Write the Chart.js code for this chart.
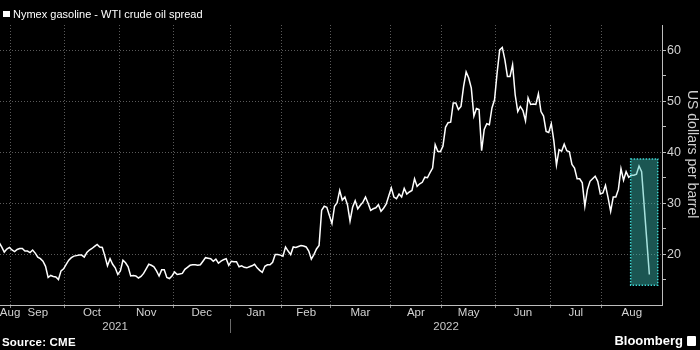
<!DOCTYPE html>
<html>
<head>
<meta charset="utf-8">
<title>Nymex gasoline - WTI crude oil spread</title>
<script src="https://cdn.jsdelivr.net/npm/chart.js@4.4.1/dist/chart.umd.min.js"></script>
<style>
  html, body { margin: 0; padding: 0; background: #000; }
  #wrap { position: relative; width: 700px; height: 350px; overflow: hidden;
          font-family: 'Liberation Sans', Arial, sans-serif; }
  #chart { position: absolute; left: 0; top: 0; }
  .key-box { position: absolute; left: 3px; top: 11px; width: 7px; height: 6px; background: #fff; }
  .key-text { position: absolute; left: 13px; top: 8px; font-size: 11px; line-height: 12px;
              color: #fff; white-space: nowrap; }
  .y-title { position: absolute; left: 685px; top: 90px; writing-mode: vertical-rl;
             font-size: 14px; line-height: 16px; color: #cfcfcf; white-space: nowrap; }
  .source { position: absolute; left: 2px; top: 336px; font-size: 11.5px; line-height: 13px;
            font-weight: bold; color: #fff; white-space: nowrap; letter-spacing: 0.2px; }
  .brand { position: absolute; right: 17px; top: 334px; font-size: 13px; line-height: 14px;
           font-weight: bold; color: #fff; white-space: nowrap; }
  .brand-mark { position: absolute; left: 687px; top: 336px; width: 9px; height: 10px;
                background: #fff; border-radius: 1px; }
</style>
</head>
<body>
<div id="wrap">
  <canvas id="chart" width="700" height="350"></canvas>
  <div class="key-box"></div>
  <div class="key-text" id="keyText"></div>
  <div class="y-title" id="yTitle"></div>
  <div class="source" id="source"></div>
  <div class="brand" id="brand"></div>
  <div class="brand-mark"></div>
</div>
<script>
// ---- data ----------------------------------------------------------------
const seriesLabel = 'Nymex gasoline - WTI crude oil spread';
const yAxisTitle = 'US dollars per barrel';
const sourceText = 'Source: CME';
const brandText = 'Bloomberg';

// one value per NYMEX session, starting with the first session below
const firstSession = '2021-08-25';
const exchangeHolidays = ['2021-09-06', '2021-11-25', '2021-12-24', '2022-01-17',
  '2022-02-21', '2022-04-15', '2022-05-30', '2022-06-20', '2022-07-04'];

const spread = [
  22.3, 21.4, 20.4, 21.0, 21.3, 20.8, 20.5, 20.9, 21.1, 21.1,
  20.6, 20.6, 20.3, 20.8, 20.2, 19.4, 19.1, 18.6, 17.6, 15.4,
  15.8, 15.6, 15.5, 15.0, 16.7, 17.1, 18.0, 18.8, 19.3, 19.6,
  19.7, 19.8, 19.8, 19.4, 20.3, 20.8, 21.1, 21.5, 21.9, 21.4,
  21.3, 19.6, 17.7, 19.1, 18.0, 17.3, 16.0, 16.7, 18.8, 18.3,
  17.5, 15.7, 15.8, 15.7, 15.3, 15.6, 16.2, 17.1, 18.0, 17.8,
  17.5, 16.7, 15.7, 16.9, 16.9, 15.4, 15.2, 15.7, 16.5, 16.0,
  16.1, 16.2, 17.0, 17.4, 17.8, 17.9, 17.9, 17.8, 17.9, 18.6,
  19.3, 19.2, 19.1, 18.6, 19.0, 18.2, 18.6, 18.9, 19.1, 17.8,
  18.6, 18.5, 18.5, 17.5, 17.7, 17.4, 17.3, 17.5, 17.7, 18.0,
  17.3, 16.8, 16.4, 17.6, 17.9, 17.9, 18.4, 19.9, 19.9, 19.8,
  19.6, 21.4, 20.6, 19.9, 21.4, 21.3, 21.5, 21.7, 21.6, 21.4,
  20.6, 19.0, 19.9, 21.0, 21.7, 28.6, 29.4, 29.2, 27.6, 26.0,
  29.4, 30.1, 32.5, 30.6, 31.2, 29.7, 26.5, 29.2, 30.5, 28.9,
  29.6, 30.2, 31.2, 30.0, 28.6, 28.9, 29.1, 29.7, 28.4, 29.0,
  29.8, 31.4, 33.0, 31.2, 30.9, 31.8, 31.2, 32.9, 31.8, 32.2,
  32.5, 34.8, 33.3, 33.8, 34.1, 35.1, 35.0, 36.0, 36.9, 41.5,
  40.2, 40.1, 41.2, 44.9, 45.8, 45.9, 49.7, 49.7, 48.4, 49.0,
  52.9, 55.8, 54.6, 52.6, 47.1, 48.6, 48.4, 40.3, 44.5, 45.6,
  45.4, 48.7, 50.3, 55.6, 60.1, 60.6, 58.2, 54.9, 54.9, 57.2,
  51.3, 48.0, 49.0, 48.2, 46.2, 50.7, 49.4, 49.5, 49.4, 51.5,
  48.0, 47.1, 44.1, 43.9, 45.6, 42.2, 37.5, 40.5, 40.2, 41.6,
  40.3, 40.1, 37.6, 36.9, 34.8, 34.8, 34.0, 29.4, 32.7, 34.3,
  34.8, 35.3, 34.3, 31.8, 32.0, 33.5, 31.1, 28.4, 31.2, 31.2,
  32.7, 36.8, 34.5, 36.2, 35.1, 35.5, 35.5, 35.7, 37.3, 36.2,
  null, null, 16.0
];

const monthNames = ['Jan', 'Feb', 'Mar', 'Apr', 'May', 'Jun', 'Jul', 'Aug', 'Sep', 'Oct', 'Nov', 'Dec'];
const yTicks = [15, 20, 25, 30, 35, 40, 45, 50, 55, 60];   // labelled every 10
const yRange = { min: 10, max: 65 };

// shaded window over the late-August collapse
const highlight = { from: '2022-08-16', to: '2022-08-30', low: 13.9, high: 38.7 };

// ---- session calendar ------------------------------------------------------
function buildSessions(start, count) {
  const out = [];
  const d = new Date(start + 'T00:00:00Z');
  while (out.length < count) {
    const iso = d.toISOString().slice(0, 10);
    const wd = d.getUTCDay();
    if (wd !== 0 && wd !== 6 && !exchangeHolidays.includes(iso)) out.push(iso);
    d.setUTCDate(d.getUTCDate() + 1);
  }
  return out;
}
const sessions = buildSessions(firstSession, 265);
const sessionIndex = iso => sessions.indexOf(iso);

// visible window, in session units
const xMin = 0.35;
const xMax = 256.9;

// month boundaries sit half a session before each month's first session
const boundaries = [];
for (let i = 1; i < sessions.length; i++) {
  if (sessions[i].slice(0, 7) !== sessions[i - 1].slice(0, 7)) {
    const v = i - 0.5;
    if (v > xMin + 1 && v < xMax - 1) boundaries.push({ value: v, iso: sessions[i] });
  }
}

// month names centred in their span; the clipped first month is kept on screen
const edges = [xMin, ...boundaries.map(b => b.value), xMax];
const monthLabels = [];
for (let k = 0; k < edges.length - 1; k++) {
  const iso = k === 0 ? sessions[0] : boundaries[k - 1].iso;
  let mid = (edges[k] + edges[k + 1]) / 2;
  if (k === 0) mid = Math.max(mid, xMin + 3.9);
  monthLabels.push({ value: mid, text: monthNames[+iso.slice(5, 7) - 1] });
}
const monthTicks = [
  ...boundaries.map(b => ({ value: b.value, edge: true, text: '' })),
  ...monthLabels.map(m => ({ value: m.value, edge: false, text: m.text }))
].sort((a, b) => a.value - b.value);

// year captions and the divider between them
const yearBreaks = boundaries.filter(b => b.iso.slice(5, 7) === '01');
const yearEdges = [xMin, ...yearBreaks.map(b => b.value), xMax];
const yearTicks = [...yearBreaks.map(b => ({ value: b.value, edge: true, text: '' }))];
for (let k = 0; k < yearEdges.length - 1; k++) {
  const iso = k === 0 ? sessions[0] : yearBreaks[k - 1].iso;
  yearTicks.push({ value: (yearEdges[k] + yearEdges[k + 1]) / 2, edge: false, text: iso.slice(0, 4) });
}
yearTicks.sort((a, b) => a.value - b.value);

// ---- text outside the canvas ----------------------------------------------
document.getElementById('keyText').textContent = seriesLabel;
document.getElementById('yTitle').textContent = yAxisTitle;
document.getElementById('source').textContent = sourceText;
document.getElementById('brand').textContent = brandText;

// ---- chart -------------------------------------------------------------------
const gridColor = '#5a5a5a';
const axisColor = '#bdbdbd';
const labelColor = '#d2d2d2';
Chart.defaults.font.family = "'Liberation Sans', Arial, sans-serif";

const highlightBox = {
  id: 'highlightBox',
  afterDatasetsDraw(chart) {
    const { ctx, scales: { x, y } } = chart;
    const x0 = x.getPixelForValue(sessionIndex(highlight.from) - 0.25);
    const x1 = x.getPixelForValue(sessionIndex(highlight.to) + 0.25);
    const y0 = y.getPixelForValue(highlight.high);
    const y1 = y.getPixelForValue(highlight.low);
    ctx.save();
    ctx.fillStyle = 'rgba(60, 190, 182, 0.45)';
    ctx.fillRect(x0, y0, x1 - x0, y1 - y0);
    ctx.setLineDash([1.5, 1.5]);
    ctx.lineWidth = 1.5;
    ctx.strokeStyle = '#3fd6d2';
    ctx.strokeRect(x0, y0, x1 - x0, y1 - y0);
    ctx.restore();
  }
};

new Chart(document.getElementById('chart'), {
  type: 'line',
  data: {
    datasets: [{
      label: seriesLabel,
      data: spread.map((v, i) => ({ x: i, y: v })),
      borderColor: '#ffffff',
      backgroundColor: '#ffffff',
      borderWidth: 1.5,
      pointRadius: 0,
      tension: 0,
      spanGaps: true,
      fill: false
    }]
  },
  options: {
    responsive: false,
    animation: false,
    devicePixelRatio: 1,
    events: [],
    layout: { autoPadding: false, padding: { top: 25, left: 0, right: 0, bottom: 16 } },
    plugins: { legend: { display: false }, tooltip: { enabled: false } },
    scales: {
      x: {
        type: 'linear',
        position: 'bottom',
        min: xMin,
        max: xMax,
        afterBuildTicks: s => { s.ticks = monthTicks.map(t => ({ value: t.value })); },
        afterFit: s => { s.height = 14; },
        ticks: {
          autoSkip: false, maxRotation: 0, padding: -2.2,
          color: labelColor, font: { size: 11.5 },
          callback: (v, i) => monthTicks[i] ? monthTicks[i].text : ''
        },
        grid: {
          drawOnChartArea: true, drawTicks: true, tickLength: 3, lineWidth: 1,
          color: c => (monthTicks[c.index] && monthTicks[c.index].edge) ? gridColor : 'rgba(0,0,0,0)',
          tickColor: c => (monthTicks[c.index] && monthTicks[c.index].edge) ? '#8a8a8a' : 'rgba(0,0,0,0)'
        },
        border: { display: true, color: axisColor, width: 1, dash: [1, 2] }
      },
      xYear: {
        type: 'linear',
        position: 'bottom',
        min: xMin,
        max: xMax,
        afterBuildTicks: s => { s.ticks = yearTicks.map(t => ({ value: t.value })); },
        afterFit: s => { s.height = 15; },
        ticks: {
          autoSkip: false, maxRotation: 0, padding: -12.9,
          color: '#c8c8c8', font: { size: 11.5 },
          callback: (v, i) => yearTicks[i] ? yearTicks[i].text : ''
        },
        grid: {
          drawOnChartArea: false, drawTicks: true, tickLength: 14,
          tickColor: c => (yearTicks[c.index] && yearTicks[c.index].edge) ? '#6a6a6a' : 'rgba(0,0,0,0)'
        },
        border: { display: false }
      },
      y: {
        type: 'linear',
        position: 'right',
        min: yRange.min,
        max: yRange.max,
        afterBuildTicks: s => { s.ticks = yTicks.map(v => ({ value: v })); },
        afterFit: s => { s.width = 38; },
        ticks: {
          autoSkip: false, padding: 1,
          color: labelColor, font: { size: 12.5 },
          callback: v => (v % 10 === 0 ? String(v) : '')
        },
        grid: {
          drawTicks: true, tickLength: 4, lineWidth: 1,
          color: c => (c.tick && c.tick.value % 10 === 0) ? gridColor : 'rgba(0,0,0,0)',
          tickColor: axisColor
        },
        border: { display: true, color: axisColor, width: 1, dash: [1, 2] }
      }
    }
  },
  plugins: [highlightBox]
});
</script>
</body>
</html>
